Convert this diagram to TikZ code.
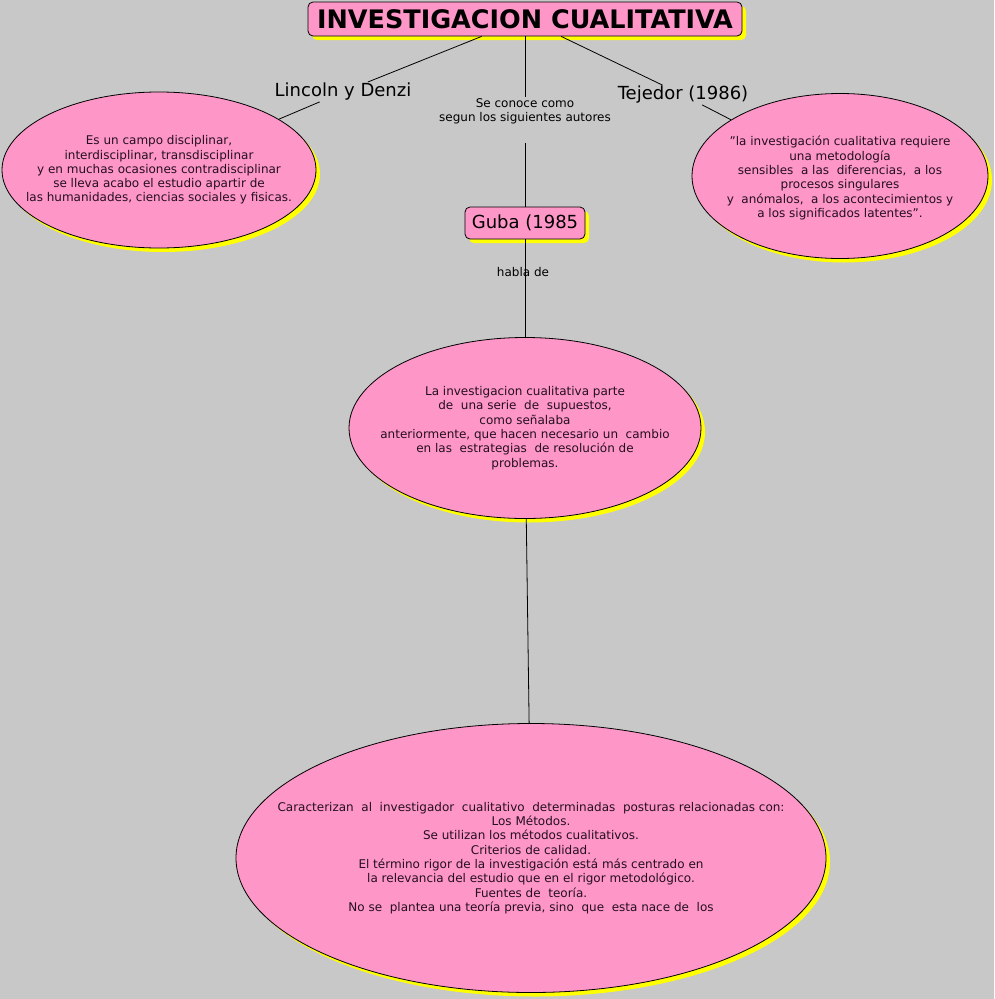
\documentclass[tikz,border=0pt]{standalone}
\usepackage{fontspec}
\setmainfont{DejaVu Sans}[Ligatures=ResetAll]
\usetikzlibrary{shapes.geometric,shadows}
\definecolor{icpink}{RGB}{255,150,200}
\definecolor{icyellow}{RGB}{255,255,0}
\definecolor{icgray}{RGB}{200,200,200}
\definecolor{ictext}{RGB}{35,15,30}
\tikzset{
  icshadow/.style={
    drop shadow={fill=icyellow,opacity=1,shadow xshift=4pt,shadow yshift=-4pt}
  },
  icbox/.style={
    rectangle, rounded corners=5pt, draw=black, fill=icpink,
    line width=0.8pt, icshadow, inner sep=0pt
  },
  icellipse/.style={
    ellipse, draw=black, fill=icpink, line width=0.8pt, icshadow, inner sep=0pt
  },
  ictextblock/.style={
    align=center, text=ictext, inner sep=0pt,
    font=\fontsize{12}{14.3}\selectfont
  },
  iclink/.style={line width=0.8pt},
  icauthor/.style={font=\fontsize{18}{21}\selectfont,inner sep=1pt},
  icnote/.style={font=\fontsize{12}{14}\selectfont,align=center,inner sep=1pt}
}

\begin{document}
\begin{tikzpicture}[x=1pt,y=-1pt]
\fill[icgray] (0,0) rectangle (994,999);
\useasboundingbox (0,0) rectangle (994,999);

% Title and the three authors
\node[icbox,minimum width=434pt,minimum height=34pt,font=\bfseries\fontsize{25.5}{28}\selectfont] (title) at (525,19) {INVESTIGACION CUALITATIVA};
\node[icauthor] (lincoln) at (343,92) {Lincoln y Denzi};
\node[icauthor] (tejedor) at (683,95) {Tejedor (1986)};
\node[icnote] (seconoce) at (525,111) {Se conoce como\\segun los siguientes autores};
\node[icbox,minimum width=120pt,minimum height=32pt,font=\fontsize{18}{20}\selectfont] (guba) at (525,223) {Guba (1985};
\node[icnote] (habla) at (523,272) {habla de};

% Ellipses, with their texts on top
\node[icellipse,minimum width=314pt,minimum height=156pt] (leftell) at (159,170) {};
\node[ictextblock] (lefttxt) at (leftell) {Es un campo disciplinar,\\interdisciplinar, transdisciplinar\\y en muchas ocasiones contradisciplinar\\se lleva acabo el estudio apartir de\\las humanidades, ciencias sociales y fisicas.};
\node[icellipse,minimum width=296pt,minimum height=165pt] (rightell) at (840,176) {};
\node[ictextblock] (righttxt) at ([yshift=-2pt]rightell.center) {"la investigación cualitativa requiere\\una metodología\\sensibles~ a las~ diferencias,~ a los\\procesos singulares\\y~ anómalos,~ a los acontecimientos y\\a los significados latentes".};
\node[icellipse,minimum width=352pt,minimum height=181pt] (midell) at (525,428) {};
\node[ictextblock] (midtxt) at (midell) {La investigacion cualitativa parte\\de~ una serie~ de~ supuestos,\\como señalaba\\anteriormente, que hacen necesario un~ cambio\\en las~ estrategias~ de resolución de\\problemas.};
\node[icellipse,minimum width=590pt,minimum height=269pt] (botell) at (531,858) {};
\node[ictextblock] (bottxt) at (botell) {Caracterizan~ al~ investigador~ cualitativo~ determinadas~ posturas relacionadas con:\\Los Métodos.\\Se utilizan los métodos cualitativos.\\Criterios de calidad.\\El término rigor de la investigación está más centrado en\\la relevancia del estudio que en el rigor metodológico.\\Fuentes de~ teoría.\\No se~ plantea una teoría previa, sino~ que~ esta nace de~ los};

% Links
\draw[iclink] (title) -- (lincoln);
\draw[iclink] (title) -- (seconoce);
\draw[iclink] (title) -- (tejedor);
\draw[iclink,shorten <=18pt] (seconoce) -- (guba);
\draw[iclink] (lincoln) -- (leftell);
\draw[iclink] (tejedor) -- (rightell);
\draw[iclink] (guba) -- (midell);
\draw[iclink] (midell) -- (botell);
\end{tikzpicture}
\end{document}
